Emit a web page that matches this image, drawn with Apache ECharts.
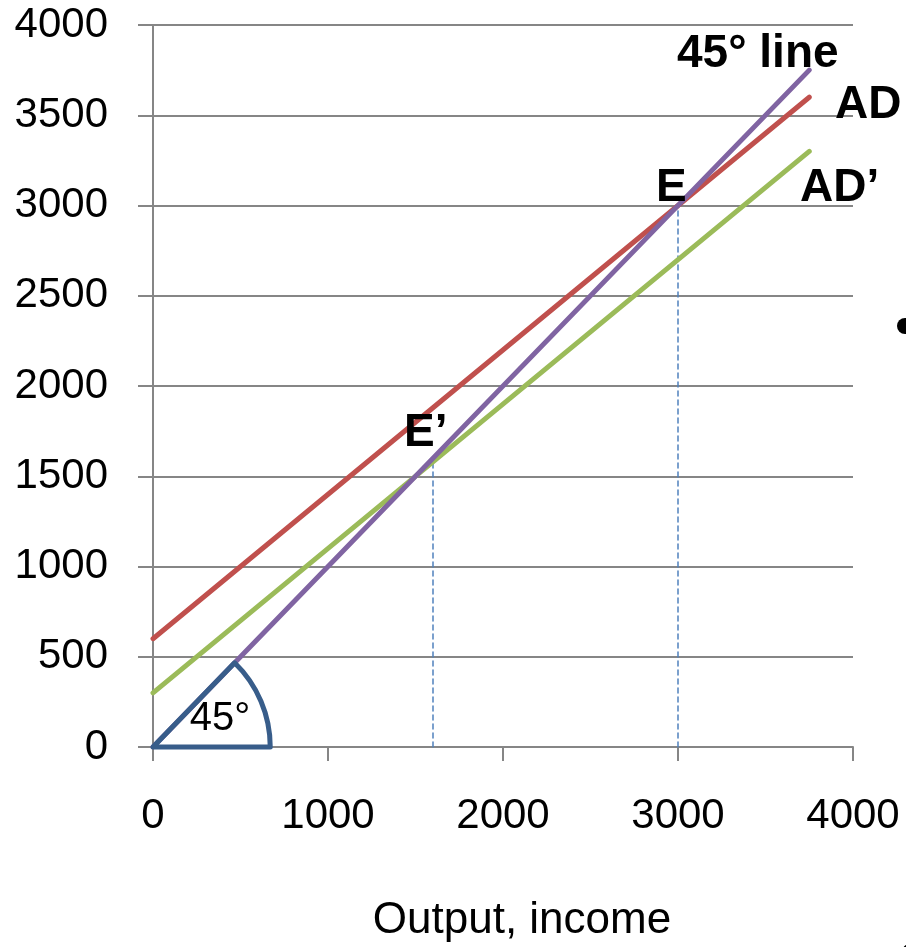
<!DOCTYPE html>
<html><head><meta charset="utf-8">
<script src="https://cdn.jsdelivr.net/npm/echarts@6/dist/echarts.min.js"></script>
<style>html,body{margin:0;padding:0;background:#fff}#c{width:906px;height:947px}</style>
</head><body><div id="c"></div>
<script>
const adLine = [[0, 600], [3750, 3600]];
const adPrimeLine = [[0, 300], [3750, 3300]];
const line45 = [[0, 0], [3750, 3750]];
const dropE = [[3000, 0], [3000, 3000]];
const dropEPrime = [[1600, 0], [1600, 1580]];
const arcRadius = 670;
const xTicks = [0, 1000, 2000, 3000, 4000];
const yTicks = [0, 500, 1000, 1500, 2000, 2500, 3000, 3500, 4000];

const FONT = '"Liberation Sans", Arial, sans-serif';
const chart = echarts.init(document.getElementById('c'), null, {renderer: 'canvas'});

function lineSeries(data, color, width, dashed) {
  return {
    type: 'line', data: data, symbol: 'none', silent: true,
    lineStyle: {color: color, width: width, type: dashed ? [5, 4] : 'solid', cap: 'round'},
    z: dashed ? 2 : 3
  };
}

chart.setOption({
  animation: false,
  grid: {left: 153, right: 53, top: 25, bottom: 200, containLabel: false, outerBoundsMode: 'none'},
  xAxis: {
    type: 'value', min: xTicks[0], max: xTicks[xTicks.length - 1], interval: xTicks[1] - xTicks[0],
    name: 'Output, income', nameLocation: 'middle', nameGap: 152,
    nameTextStyle: {fontFamily: FONT, fontSize: 44, color: '#000', verticalAlign: 'top', padding: [0, 0, 0, 38]},
    axisLine: {show: true, onZero: false, lineStyle: {color: '#868686', width: 2}},
    axisTick: {show: true, length: 14, lineStyle: {color: '#868686', width: 2}},
    axisLabel: {fontFamily: FONT, fontSize: 42, color: '#000', margin: 48, formatter: v => String(v)},
    splitLine: {show: false}
  },
  yAxis: {
    type: 'value', min: yTicks[0], max: yTicks[yTicks.length - 1], interval: yTicks[1] - yTicks[0],
    axisLine: {show: true, onZero: false, lineStyle: {color: '#868686', width: 2}},
    axisTick: {show: true, length: 15, lineStyle: {color: '#868686', width: 2}},
    axisLabel: {fontFamily: FONT, fontSize: 42, color: '#000', margin: 45, formatter: v => String(v)},
    splitLine: {show: true, lineStyle: {color: '#868686', width: 2}}
  },
  series: [
    lineSeries(dropE, '#4F81BD', 1.5, true),
    lineSeries(dropEPrime, '#4F81BD', 1.5, true),
    lineSeries(adLine, '#C0504D', 5, false),
    lineSeries(adPrimeLine, '#9BBB59', 5, false),
    {
      type: 'custom', silent: true, z: 4,
      data: [[0, 0]],
      renderItem: function (params, api) {
        const c = api.coord([0, 0]);
        const r = api.size([arcRadius, 0])[0];
        const p = api.coord(line45[1]);
        const ang = Math.atan2(p[1] - c[1], p[0] - c[0]);
        return {
          type: 'sector',
          shape: {cx: c[0], cy: c[1], r0: 0, r: r, startAngle: ang, endAngle: 0, clockwise: true},
          style: {fill: 'none', stroke: '#385D8A', lineWidth: 5, lineJoin: 'round'}
        };
      }
    },
    lineSeries(line45, '#8064A2', 5, false)
  ],
  graphic: [
    {type: 'text', z: 10, style: {x: 677, y: 54, text: '45° line', font: 'bold 46px ' + FONT, fill: '#000', align: 'left', verticalAlign: 'middle'}},
    {type: 'text', z: 10, style: {x: 835, y: 105, text: 'AD', font: 'bold 46px ' + FONT, fill: '#000', align: 'left', verticalAlign: 'middle'}},
    {type: 'text', z: 10, style: {x: 800, y: 188, text: 'AD’', font: 'bold 46px ' + FONT, fill: '#000', align: 'left', verticalAlign: 'middle'}},
    {type: 'text', z: 10, style: {x: 656, y: 188, text: 'E', font: 'bold 46px ' + FONT, fill: '#000', align: 'left', verticalAlign: 'middle'}},
    {type: 'text', z: 10, style: {x: 404, y: 433, text: 'E’', font: 'bold 46px ' + FONT, fill: '#000', align: 'left', verticalAlign: 'middle'}},
    {type: 'text', z: 10, style: {x: 220, y: 719, text: '45°', font: '40px ' + FONT, fill: '#000', align: 'center', verticalAlign: 'middle'}},
    {type: 'circle', z: 10, shape: {cx: 905, cy: 326, r: 8}, style: {fill: '#000'}},
    {type: 'circle', z: 10, shape: {cx: 910, cy: 952, r: 8}, style: {fill: '#000'}}
  ]
});
</script></body></html>
